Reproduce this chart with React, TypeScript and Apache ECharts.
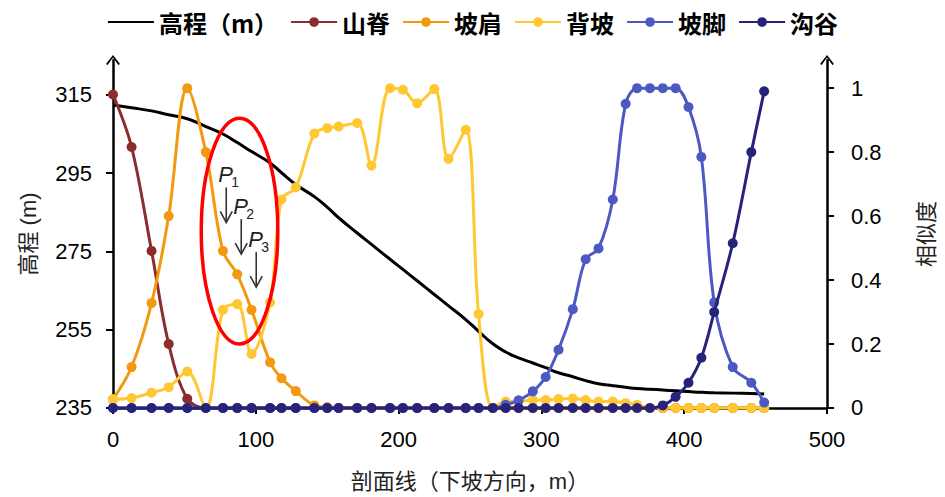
import React, { useEffect, useRef } from 'react';
import * as echarts from 'echarts';

// distance along the profile (m)
const distance = [0, 13, 27, 39, 52, 65, 77, 87, 97, 110, 118, 128, 141, 150, 158, 171, 181, 194, 203, 213, 225, 235, 247, 256, 266, 275, 284, 294, 303, 312, 322, 331, 340, 350, 359, 367, 376, 385, 394, 403, 412, 421, 434, 447, 456];

// elevation (m)
const elevation = [312.4, 311.7, 310.9, 309.9, 308.9, 306.9, 305.0, 302.8, 300.5, 297.6, 295.1, 292.1, 289.0, 286.3, 283.6, 279.7, 276.8, 273.0, 270.4, 267.5, 264.0, 261.1, 257.6, 254.6, 251.4, 249.3, 247.8, 246.5, 245.3, 244.0, 243.0, 242.0, 241.2, 240.7, 240.3, 240.0, 239.8, 239.6, 239.4, 239.2, 239.0, 238.9, 238.8, 238.7, 238.6];

// similarity values
const ridge = [0.98, 0.816, 0.491, 0.2, 0.029, 0, 0, 0, 0, 0, 0, 0, 0, 0, 0, 0, 0, 0, 0, 0, 0, 0, 0, 0, 0, 0, 0, 0, 0, 0, 0, 0, 0, 0, 0, 0, 0, 0, 0, 0, 0, 0, 0, 0, 0];
const shoulder = [0.027, 0.128, 0.328, 0.6, 1.0, 0.8, 0.491, 0.418, 0.307, 0.143, 0.093, 0.053, 0.008, 0.003, 0, 0, 0, 0, 0, 0, 0, 0, 0, 0, 0, 0, 0, 0, 0, 0, 0, 0, 0, 0, 0, 0, 0, 0, 0, 0, 0, 0, 0, 0, 0];
const backslope = [0.027, 0.031, 0.048, 0.065, 0.114, 0, 0.307, 0.325, 0.169, 0.33, 0.652, 0.69, 0.858, 0.875, 0.88, 0.891, 0.758, 1.0, 0.995, 0.953, 0.997, 0.779, 0.87, 0.294, 0, 0.02, 0.02, 0.025, 0.025, 0.028, 0.03, 0.025, 0.02, 0.02, 0.015, 0.01, 0, 0, 0, 0, 0, 0, 0, 0, 0];
const footslope = [0, 0, 0, 0, 0, 0, 0, 0, 0, 0, 0, 0, 0, 0, 0, 0, 0, 0, 0, 0, 0, 0, 0, 0, 0, 0.01, 0.024, 0.052, 0.097, 0.182, 0.309, 0.465, 0.499, 0.652, 0.951, 1.0, 1.0, 1.0, 1.0, 0.941, 0.785, 0.33, 0.128, 0.079, 0.017];
const valley = [0, 0, 0, 0, 0, 0, 0, 0, 0, 0, 0, 0, 0, 0, 0, 0, 0, 0, 0, 0, 0, 0, 0, 0, 0, 0, 0, 0, 0, 0, 0, 0, 0, 0, 0, 0, 0, 0.008, 0.035, 0.079, 0.157, 0.3, 0.515, 0.8, 0.99];

const elevTicks = [235, 255, 275, 295, 315];
const simTicks = [0, 0.2, 0.4, 0.6, 0.8, 1];

const seriesDefs = [
  { name: '山脊', data: ridge, color: '#8B2D2D' },
  { name: '坡肩', data: shoulder, color: '#F2990F' },
  { name: '背坡', data: backslope, color: '#FFC832' },
  { name: '坡脚', data: footslope, color: '#4D59C2' },
  { name: '沟谷', data: valley, color: '#27237A' },
];

// annotation anchors (distance m, similarity)
const ellipseCenter = [88.6, 0.553];
const ellipseRadius = [26.8, 0.353];
const arrowTips = [
  { x: 79.3, y: 0.58, label: '1' },
  { x: 89.8, y: 0.481, label: '2' },
  { x: 100.3, y: 0.378, label: '3' },
];

const FONT = '"Liberation Sans", "Noto Sans CJK SC", sans-serif';
const arrowPath = 'path://M0,9 L7,0 L14,9 L12.4,10 L7,2.6 L1.6,10 Z';

export default function App() {
  const ref = useRef<HTMLDivElement>(null);
  useEffect(() => {
    document.body.style.margin = '0';
    const chart = echarts.init(ref.current!, null, { renderer: 'svg' });
    const axisLine = (withArrow: boolean) => ({
      show: true,
      lineStyle: { color: '#000', width: 2.5 },
      symbol: withArrow ? ['none', arrowPath] : ['none', 'none'],
      symbolSize: [15, 10],
      symbolOffset: [0, 0],
    });
    const option: any = {
      animation: false,
      backgroundColor: '#fff',
      grid: { left: 113, right: 117, top: 60, bottom: 88, containLabel: false },
      legend: {
        top: 5,
        left: 'center',
        itemWidth: 46,
        itemHeight: 12,
        itemGap: 12,
        textStyle: { fontSize: 24, fontWeight: 'bold', color: '#000', fontFamily: '"Noto Sans CJK SC", sans-serif' },
        data: [
          { name: '高程（m）', itemStyle: { opacity: 0 } },
          ...seriesDefs.map((s) => s.name),
        ],
      },
      xAxis: {
        type: 'value',
        min: 0,
        max: 500,
        interval: 100,
        name: '剖面线（下坡方向，m）',
        nameLocation: 'middle',
        nameGap: 62,
        nameTextStyle: { fontSize: 22, color: '#222', fontFamily: FONT },
        axisLine: { show: true, onZero: false, lineStyle: { color: '#000', width: 2.5 } },
        axisTick: { show: true, inside: false, length: 6, lineStyle: { color: '#000', width: 2 } },
        axisLabel: { fontSize: 22, color: '#000', margin: 20, fontFamily: FONT },
        splitLine: { show: false },
      },
      yAxis: [
        {
          type: 'value',
          min: 235,
          max: 323.9,
          position: 'left',
          name: '高程 (m)',
          nameLocation: 'middle',
          nameGap: 74,
          nameTextStyle: { fontSize: 22, color: '#222', fontFamily: FONT },
          axisLine: axisLine(true),
          axisTick: { show: true, inside: false, length: 7, lineStyle: { color: '#000', width: 2 }, customValues: elevTicks },
          axisLabel: { fontSize: 22, color: '#000', margin: 21, fontFamily: FONT, customValues: elevTicks },
          splitLine: { show: false },
        },
        {
          type: 'value',
          min: 0,
          max: 1.088,
          position: 'right',
          name: '相似度',
          nameLocation: 'middle',
          nameGap: 88,
          nameTextStyle: { fontSize: 22, color: '#222', fontFamily: FONT },
          axisLine: axisLine(true),
          axisTick: { show: true, inside: false, length: 7, lineStyle: { color: '#000', width: 2 }, customValues: simTicks },
          axisLabel: { fontSize: 22, color: '#000', margin: 24, fontFamily: FONT, customValues: simTicks },
          splitLine: { show: false },
        },
      ],
      series: [
        {
          name: '高程（m）',
          type: 'line',
          yAxisIndex: 0,
          data: distance.map((d, i) => [d, elevation[i]]),
          smooth: true,
          showSymbol: false,
          symbol: 'none',
          lineStyle: { color: '#000', width: 3 },
          itemStyle: { color: '#000' },
          z: 1,
        },
        ...seriesDefs.map((s, k) => ({
          name: s.name,
          type: 'line',
          yAxisIndex: 1,
          data: distance.map((d, i) => [d, s.data[i]]),
          smooth: 0.35,
          symbol: 'circle',
          symbolSize: 10,
          lineStyle: { color: s.color, width: 3 },
          itemStyle: { color: s.color },
          z: 2 + k,
        })),
      ],
    };
    chart.setOption(option);

    const toPx = (p: number[]) => chart.convertToPixel({ seriesIndex: 2 }, p) as number[];
    const c = toPx(ellipseCenter);
    const e2 = toPx([ellipseCenter[0] + ellipseRadius[0], ellipseCenter[1] + ellipseRadius[1]]);
    const graphics: any[] = [
      {
        type: 'ellipse',
        shape: { cx: c[0], cy: c[1], rx: Math.abs(e2[0] - c[0]), ry: Math.abs(c[1] - e2[1]) },
        style: { fill: 'none', stroke: '#FF0000', lineWidth: 3.5 },
        z: 100,
      },
    ];
    arrowTips.forEach((a) => {
      const t = toPx([a.x, a.y]);
      const top = t[1] - 35;
      graphics.push(
        { type: 'line', shape: { x1: t[0], y1: top, x2: t[0], y2: t[1] }, style: { stroke: '#333', lineWidth: 1.6 }, z: 100 },
        { type: 'polyline', shape: { points: [[t[0] - 6, t[1] - 11], [t[0], t[1]], [t[0] + 6, t[1] - 11]] }, style: { stroke: '#333', lineWidth: 1.6, fill: 'none' }, z: 100 },
        { type: 'text', x: t[0] - 8, y: top - 2, style: { text: 'P', fontSize: 22, fontStyle: 'italic', fontFamily: '"Liberation Sans", sans-serif', fill: '#222', align: 'left', verticalAlign: 'bottom' }, z: 100 },
        { type: 'text', x: t[0] + 5, y: top + 2, style: { text: a.label, fontSize: 14, fontFamily: '"Liberation Sans", sans-serif', fill: '#222', align: 'left', verticalAlign: 'bottom' }, z: 100 }
      );
    });
    chart.setOption({ graphic: graphics });
    return () => chart.dispose();
  }, []);
  return <div ref={ref} style={{ width: 945, height: 497 }} />;
}
